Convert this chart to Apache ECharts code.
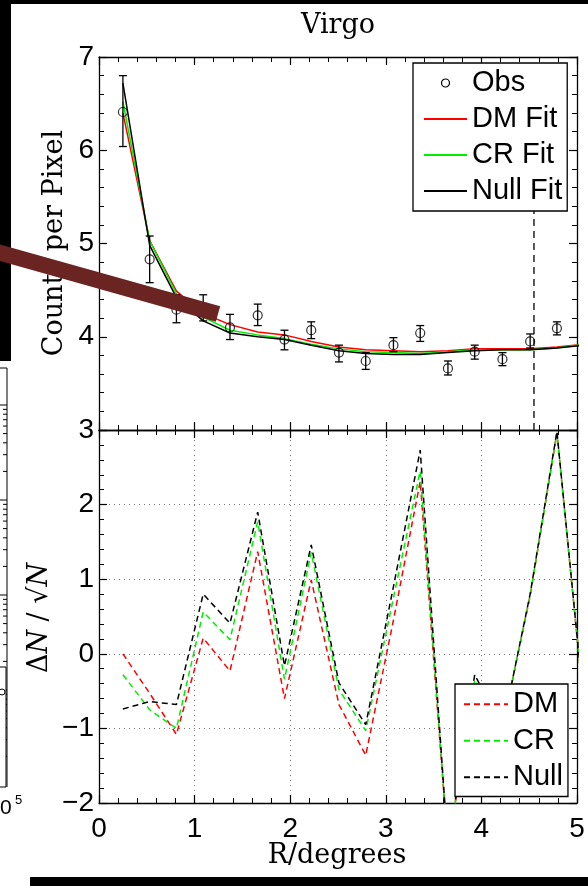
<!DOCTYPE html>
<html>
<head>
<meta charset="utf-8">
<script src="https://cdn.jsdelivr.net/npm/echarts@6/dist/echarts.min.js"></script>
<style>
html,body{margin:0;padding:0;background:#fff;}
#chart{width:588px;height:886px;}
</style>
</head>
<body>
<div id="chart"></div>
<script>
// ---- data ----
const binR = [0.25,0.53,0.81,1.09,1.37,1.66,1.94,2.22,2.51,2.79,3.08,3.36,3.65,3.93,4.22,4.51,4.79];
const obsCounts = [6.41,4.83,4.29,4.30,4.10,4.23,3.97,4.07,3.83,3.74,3.91,4.04,3.66,3.84,3.76,3.95,4.09];
const obsLow    = [6.04,4.58,4.15,4.17,3.97,4.12,3.86,3.98,3.73,3.65,3.84,3.95,3.59,3.76,3.69,3.88,4.02];
const obsHigh   = [6.80,5.08,4.45,4.45,4.24,4.35,4.07,4.16,3.91,3.83,3.99,4.12,3.74,3.91,3.83,4.03,4.16];

const modelR  = [0.25,0.53,0.81,1.09,1.37,1.66,1.94,2.22,2.51,2.79,3.08,3.36,3.65,3.93,4.22,4.51,4.79,5.08];
const dmFit   = [6.40,5.03,4.49,4.25,4.13,4.05,4.02,3.95,3.89,3.86,3.85,3.84,3.85,3.87,3.87,3.87,3.89,3.92];
const crFit   = [6.52,5.03,4.46,4.21,4.07,4.02,3.98,3.92,3.87,3.84,3.83,3.82,3.84,3.86,3.86,3.86,3.88,3.92];
const nullFit = [6.72,4.98,4.42,4.17,4.04,4.00,3.97,3.91,3.85,3.82,3.81,3.81,3.83,3.85,3.86,3.86,3.88,3.91];

const dmResid   = [0.00,-0.53,-1.08,0.21,-0.23,1.37,-0.60,0.99,-0.68,-1.36,0.45,2.31,-2.60,-0.40,-1.00,0.78,2.96,-0.80];
const crResid   = [-0.28,-0.75,-1.00,0.56,0.19,1.77,-0.34,1.36,-0.48,-1.03,0.75,2.45,-2.60,-0.35,-1.00,0.78,2.96,-0.80];
const nullResid = [-0.74,-0.64,-0.68,0.80,0.41,1.90,-0.16,1.46,-0.39,-0.95,0.90,2.73,-2.60,-0.28,-1.00,0.80,2.98,-0.80];

const cutR = 4.55;
const xRange = [0, 5];
const countsRange = [3, 7];
const residRange = [-2, 3];

const titleText = 'Virgo';
const countsLabel = 'Counts per Pixel';
const xLabel = 'R/degrees';

// ---- chart ----
const chart = echarts.init(document.getElementById('chart'), null, {renderer: 'canvas'});
const SANS = 'Liberation Sans, Arial, Helvetica, sans-serif';
const SERIF = 'DejaVu Serif, serif';
const pair = (xs, ys) => xs.map((x, i) => [x, ys[i]]);
const minus = v => (v < 0 ? '\u2212' + Math.abs(v) : String(v));

function xAx(grid, pos, showLabel, split) {
  return {
    type: 'value', gridIndex: grid, position: pos, min: xRange[0], max: xRange[1], interval: 1,
    axisLine: {show: true, onZero: false, lineStyle: {color: '#000', width: 1.3}},
    axisTick: {show: true, inside: true, length: 8, lineStyle: {color: '#000', width: 1.2}},
    minorTick: {show: true, splitNumber: 5, length: 5, lineStyle: {color: '#000', width: 1}},
    axisLabel: {show: showLabel, margin: 12, color: '#000', fontFamily: SANS, fontSize: 28},
    splitLine: {show: split, lineStyle: {color: '#777', width: 1, type: [1, 4]}}
  };
}
function yAx(grid, pos, range, showLabel, split) {
  return {
    type: 'value', gridIndex: grid, position: pos, min: range[0], max: range[1], interval: 1,
    axisLine: {show: true, onZero: false, lineStyle: {color: '#000', width: 1.3}},
    axisTick: {show: true, inside: true, length: 8, lineStyle: {color: '#000', width: 1.2}},
    minorTick: {show: true, splitNumber: 5, length: 5, lineStyle: {color: '#000', width: 1}},
    axisLabel: {show: showLabel, margin: 5, color: '#000', fontFamily: SANS, fontSize: 28,
      formatter: minus, showMaxLabel: grid === 0},
    splitLine: {show: split, lineStyle: {color: '#777', width: 1, type: [1, 4]}}
  };
}

// decorative fragment of a neighbouring figure on the left edge
const fragTicks = [];
[405, 500, 595, 690].forEach(d => {
  fragTicks.push({type: 'line', shape: {x1: 0, y1: d, x2: 7, y2: d}, style: {stroke: '#000', lineWidth: 1}, z: 50});
  [2,3,4,5,6,7,8,9].forEach(k => {
    const y = d + 95 * (1 - Math.log10(k));
    if (y < 787) fragTicks.push({type: 'line', shape: {x1: 3, y1: y, x2: 7, y2: y}, style: {stroke: '#000', lineWidth: 1}, z: 50});
  });
});

const option = {
  animation: false,
  backgroundColor: '#fff',
  grid: [
    {left: 99, top: 57, width: 478, height: 373},
    {left: 99, top: 430, width: 478, height: 373}
  ],
  xAxis: [
    xAx(0, 'bottom', false, false),
    xAx(0, 'top', false, false),
    xAx(1, 'bottom', true, true),
    xAx(1, 'top', false, false)
  ],
  yAxis: [
    yAx(0, 'left', countsRange, true, false),
    yAx(0, 'right', countsRange, false, false),
    yAx(1, 'left', residRange, true, true),
    yAx(1, 'right', residRange, false, false)
  ],
  legend: [
    {
      orient: 'vertical', left: 413, top: 63, selectedMode: false,
      backgroundColor: '#fff', borderColor: '#000', borderWidth: 1.3, borderRadius: 0,
      padding: [2, 5, 2, 10], itemGap: 0, itemWidth: 43, itemHeight: 8,
      itemStyle: {opacity: 0},
      textStyle: {fontFamily: SANS, fontSize: 29, color: '#000', lineHeight: 36},
      data: [
        {name: 'Obs', icon: 'circle', itemStyle: {opacity: 1, color: 'transparent', borderColor: '#000', borderWidth: 1.2}},
        'DM Fit', 'CR Fit', 'Null Fit'
      ]
    },
    {
      orient: 'vertical', left: 455, top: 684, selectedMode: false,
      backgroundColor: '#fff', borderColor: '#000', borderWidth: 1.3, borderRadius: 0,
      padding: [2, 5, 1, 8], itemGap: 0, itemWidth: 44, itemHeight: 8,
      itemStyle: {opacity: 0},
      textStyle: {fontFamily: SANS, fontSize: 29, color: '#000', lineHeight: 36.5},
      data: ['DM', 'CR', 'Null']
    }
  ],
  series: [
    {
      name: 'cut', type: 'line', xAxisIndex: 0, yAxisIndex: 0, symbol: 'none', silent: true,
      data: [[cutR, countsRange[0]], [cutR, countsRange[1]]],
      lineStyle: {color: '#000', width: 1.3, type: [7, 5]}, z: 1
    },
    {
      name: 'DM Fit', type: 'line', xAxisIndex: 0, yAxisIndex: 0, symbol: 'none',
      data: pair(modelR, dmFit), lineStyle: {color: '#ff0000', width: 1.5}, itemStyle: {color: '#ff0000'}, z: 2
    },
    {
      name: 'CR Fit', type: 'line', xAxisIndex: 0, yAxisIndex: 0, symbol: 'none',
      data: pair(modelR, crFit), lineStyle: {color: '#00ee00', width: 1.5}, itemStyle: {color: '#00ee00'}, z: 2
    },
    {
      name: 'Null Fit', type: 'line', xAxisIndex: 0, yAxisIndex: 0, symbol: 'none',
      data: pair(modelR, nullFit), lineStyle: {color: '#000', width: 1.5}, itemStyle: {color: '#000'}, z: 2
    },
    {
      name: 'errbar', type: 'custom', xAxisIndex: 0, yAxisIndex: 0, silent: true, z: 3,
      data: binR.map((r, i) => [r, obsLow[i], obsHigh[i]]),
      encode: {x: 0, y: [1, 2]},
      renderItem: function (params, api) {
        const x = api.value(0);
        const lo = api.coord([x, api.value(1)]);
        const hi = api.coord([x, api.value(2)]);
        const w = 4;
        const st = {stroke: '#000', lineWidth: 1.3};
        return {type: 'group', children: [
          {type: 'line', shape: {x1: lo[0], y1: lo[1], x2: hi[0], y2: hi[1]}, style: st},
          {type: 'line', shape: {x1: lo[0] - w, y1: lo[1], x2: lo[0] + w, y2: lo[1]}, style: st},
          {type: 'line', shape: {x1: hi[0] - w, y1: hi[1], x2: hi[0] + w, y2: hi[1]}, style: st}
        ]};
      }
    },
    {
      name: 'Obs', type: 'scatter', xAxisIndex: 0, yAxisIndex: 0, symbol: 'circle', symbolSize: 9,
      data: pair(binR, obsCounts),
      itemStyle: {color: 'transparent', borderColor: '#000', borderWidth: 1.2}, z: 4
    },
    {
      name: 'DM', type: 'line', xAxisIndex: 2, yAxisIndex: 2, symbol: 'none',
      data: pair(modelR, dmResid), lineStyle: {color: '#ff0000', width: 1.5, type: [6, 4]}, itemStyle: {color: '#ff0000'}, z: 2
    },
    {
      name: 'CR', type: 'line', xAxisIndex: 2, yAxisIndex: 2, symbol: 'none',
      data: pair(modelR, crResid), lineStyle: {color: '#00ee00', width: 1.5, type: [6, 4]}, itemStyle: {color: '#00ee00'}, z: 2
    },
    {
      name: 'Null', type: 'line', xAxisIndex: 2, yAxisIndex: 2, symbol: 'none',
      data: pair(modelR, nullResid), lineStyle: {color: '#000', width: 1.5, type: [6, 4]}, itemStyle: {color: '#000'}, z: 2
    }
  ],
  graphic: [
    {type: 'text', x: 338, y: 26, style: {text: titleText, font: '27px ' + SERIF, fill: '#000', align: 'center', verticalAlign: 'middle'}},
    {type: 'text', x: 55, y: 243, rotation: Math.PI / 2, style: {text: countsLabel, font: '27px ' + SERIF, fill: '#000', align: 'center', verticalAlign: 'middle'}},
    {type: 'text', x: 40, y: 618, rotation: Math.PI / 2, style: {
      text: '{a|\u0394}{i|N}{a| / \u221A}{i|N}', align: 'center', verticalAlign: 'middle',
      rich: {a: {font: '27px ' + SERIF, fill: '#000'}, i: {font: 'italic 27px ' + SERIF, fill: '#000'}}
    }},
    {type: 'text', x: 337, y: 856, style: {text: xLabel, font: '27px ' + SERIF, fill: '#000', align: 'center', verticalAlign: 'middle'}},
    // frame clutter
    {type: 'rect', shape: {x: 0, y: 0, width: 588, height: 4}, style: {fill: '#000'}, z: 60},
    {type: 'rect', shape: {x: 0, y: 0, width: 11, height: 361}, style: {fill: '#000'}, z: 60},
    {type: 'rect', shape: {x: 30, y: 877, width: 558, height: 9}, style: {fill: '#000'}, z: 60},
    {type: 'line', shape: {x1: 0, y1: 368, x2: 7, y2: 368}, style: {stroke: '#000', lineWidth: 1}, z: 50},
    {type: 'line', shape: {x1: 7, y1: 368, x2: 7, y2: 787}, style: {stroke: '#000', lineWidth: 1}, z: 50},
    {type: 'rect', shape: {x: -2, y: 667, width: 8, height: 120}, style: {fill: '#fff', stroke: '#000', lineWidth: 1}, z: 51},
    {type: 'circle', shape: {cx: 2, cy: 692, r: 3}, style: {fill: 'none', stroke: '#000', lineWidth: 1}, z: 52},
    {type: 'text', x: 0, y: 808, style: {text: '0', font: '21px ' + SANS, fill: '#000', align: 'left', verticalAlign: 'middle'}, z: 50},
    {type: 'text', x: 15, y: 800, style: {text: '5', font: '13px ' + SANS, fill: '#000', align: 'left', verticalAlign: 'middle'}, z: 50},
    {type: 'line', shape: {x1: -6, y1: 251, x2: 218, y2: 314}, style: {stroke: '#6a2422', lineWidth: 16, lineCap: 'butt'}, z: 100}
  ].concat(fragTicks)
};
chart.setOption(option);
</script>
</body>
</html>
